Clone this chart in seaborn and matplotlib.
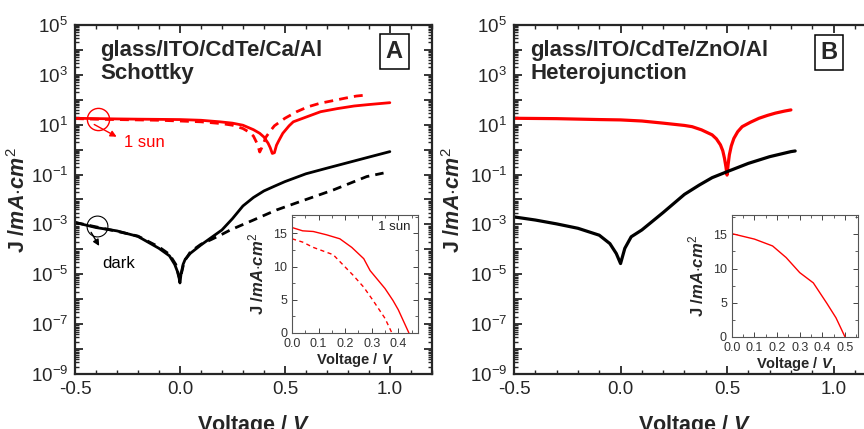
import numpy as np
import matplotlib
matplotlib.use("Agg")
import matplotlib.pyplot as plt
import matplotlib.ticker as mticker
import seaborn as sns

# ---- data ----
# panel A, main log plot
a_sun_v = [-0.5, -0.4, -0.3, -0.2, -0.1, 0.0, 0.1, 0.19, 0.25, 0.3, 0.35, 0.38, 0.4, 0.42,
           0.43, 0.44, 0.45, 0.46, 0.47, 0.49, 0.52, 0.54, 0.6, 0.67, 0.75, 0.83, 0.9, 1.0]
a_sun_j = [18, 17.5, 17, 16.6, 16.3, 16, 15, 13, 11.5, 9.5, 6.3, 4.5, 3.2, 1.8,
           1.2, 0.7, 0.75, 1.5, 2.2, 4.5, 9, 13, 20, 33, 44, 56, 64, 76]
a_sun_dash_v = [-0.5, -0.4, -0.3, -0.2, -0.1, 0.0, 0.1, 0.2, 0.25, 0.3, 0.33, 0.35, 0.37, 0.38,
                0.39, 0.41, 0.43, 0.45, 0.5, 0.556, 0.61, 0.667, 0.73, 0.786, 0.84, 0.89]
a_sun_dash_j = [17.5, 16.5, 16, 15.5, 15, 14, 13, 11, 9.5, 7, 5, 3.5, 1.6, 0.8,
                1.2, 3.2, 5.5, 9, 18, 33, 52, 72, 92, 115, 140, 155]
a_dark_v = [-0.5, -0.4, -0.3, -0.2, -0.1, -0.05, -0.025, -0.012, -0.004, 0.0, 0.005, 0.015,
            0.025, 0.05, 0.1, 0.15, 0.2, 0.25, 0.3, 0.35, 0.4, 0.45, 0.5, 0.6, 0.7, 0.8, 0.9, 1.0]
a_dark_j = [1.2e-3, 7.5e-4, 5.5e-4, 3.3e-4, 1.1e-4, 5.5e-5, 2.5e-5, 1.3e-5, 7e-6, 4.5e-6, 1e-5, 2.5e-5,
            4e-5, 7e-5, 1.5e-4, 3e-4, 6e-4, 1.7e-3, 5.5e-3, 1.2e-2, 2.2e-2, 3.4e-2, 5.2e-2, 1.07e-1,
            1.8e-1, 3e-1, 5e-1, 8.3e-1]
a_dark_dash_v = [-0.5, -0.4, -0.3, -0.2, -0.1, -0.05, -0.02, 0.0, 0.02, 0.05, 0.1, 0.15, 0.2,
                 0.24, 0.35, 0.46, 0.57, 0.73, 0.89, 0.97]
a_dark_dash_j = [1.2e-3, 8e-4, 5.3e-4, 3.4e-4, 1.25e-4, 6.3e-5, 2.5e-5, 6e-6, 3.2e-5, 8e-5, 1.6e-4,
                 2.5e-4, 4e-4, 6e-4, 1.5e-3, 3.8e-3, 8.1e-3, 2.4e-2, 8.3e-2, 1.15e-1]

# panel B, main log plot
b_sun_v = [-0.5, -0.3, -0.1, 0.0, 0.1, 0.2, 0.3, 0.336, 0.38, 0.43, 0.45, 0.469, 0.48, 0.488,
           0.495, 0.5, 0.505, 0.511, 0.52, 0.532, 0.55, 0.571, 0.61, 0.65, 0.69, 0.727, 0.77, 0.8]
b_sun_j = [18, 17.4, 16, 15.5, 14, 11.5, 9.3, 8.3, 6.2, 3.9, 2.7, 1.55, 0.9, 0.45,
           0.2, 0.095, 0.25, 0.62, 1.4, 2.8, 5.2, 8.3, 12.5, 18, 23.5, 29, 35, 39]
b_dark_v = [-0.5, -0.4, -0.3, -0.2, -0.1, -0.05, -0.02, 0.0, 0.02, 0.05, 0.1, 0.2, 0.3, 0.37,
            0.43, 0.5, 0.6, 0.7, 0.8, 0.82]
b_dark_j = [2e-3, 1.5e-3, 1.05e-3, 7e-4, 3.7e-4, 1.7e-4, 6.8e-5, 2.7e-5, 1.1e-4, 3.2e-4, 6e-4,
            3e-3, 1.6e-2, 3.8e-2, 7.5e-2, 1.3e-1, 2.8e-1, 5.2e-1, 8.3e-1, 8.8e-1]

# insets (linear J-V under 1 sun)
ia_v = [0.0, 0.04, 0.08, 0.13, 0.18, 0.225, 0.27, 0.294, 0.35, 0.38, 0.4, 0.44]
ia_j = [15.9, 15.4, 15.3, 14.8, 14.2, 12.9, 11.2, 9.4, 6.7, 4.9, 3.5, 0.0]
ia_dash_v = [0.0, 0.04, 0.08, 0.155, 0.23, 0.27, 0.305, 0.35, 0.376]
ia_dash_j = [14.2, 13.7, 12.9, 11.8, 8.7, 6.9, 4.9, 2.2, 0.0]
ib_v = [0.0, 0.05, 0.1, 0.14, 0.18, 0.24, 0.3, 0.36, 0.42, 0.46, 0.5]
ib_j = [15.1, 14.7, 14.3, 13.8, 13.3, 11.6, 9.4, 7.9, 4.9, 2.8, 0.0]

log_exps = list(range(-9, 6))
inset_a_ticks = [0.0, 0.1, 0.2, 0.3, 0.4]
inset_b_ticks = [0.0, 0.1, 0.2, 0.3, 0.4, 0.5]
inset_y_ticks = [0, 5, 10, 15]

sns.set_style("ticks")
plt.rcParams["font.family"] = ["Liberation Sans", "DejaVu Sans"]
plt.rcParams["mathtext.fontset"] = "custom"
plt.rcParams["mathtext.rm"] = "Liberation Sans"
plt.rcParams["mathtext.it"] = "Liberation Sans:italic:bold"
plt.rcParams["mathtext.bf"] = "Liberation Sans:bold"
plt.rcParams["mathtext.default"] = "regular"

RED = "#ff0000"
BLACK = "#000000"
DASH = (0, (3.2, 2.2))

fig = plt.figure(figsize=(8.64, 4.29), dpi=100)
axA = fig.add_axes([0.0868, 0.128, 0.413, 0.814])
axB = fig.add_axes([0.595, 0.128, 0.419, 0.814])


def log_fmt(v, pos):
    k = int(round(np.log10(v)))
    return f"$10^{{{k}}}$" if k % 2 else ""


def style_main(ax, ylabel_x):
    ax.set_yscale("log")
    ax.set_xlim(-0.5, 1.2)
    ax.set_ylim(1e-9, 1e5)
    ax.yaxis.set_major_locator(mticker.FixedLocator([10.0 ** k for k in log_exps]))
    ax.yaxis.set_major_formatter(mticker.FuncFormatter(log_fmt))
    ax.yaxis.set_minor_locator(mticker.LogLocator(base=10, subs=np.arange(2, 10), numticks=100))
    ax.yaxis.set_minor_formatter(mticker.NullFormatter())
    ax.xaxis.set_major_locator(mticker.MultipleLocator(0.5))
    ax.xaxis.set_major_formatter(mticker.FormatStrFormatter("%.1f"))
    ax.xaxis.set_minor_locator(mticker.MultipleLocator(0.1))
    ax.tick_params(which="both", direction="in", top=True, right=True)
    ax.tick_params(which="major", length=6, width=1.3, labelsize=13.5, pad=5)
    ax.tick_params(which="minor", length=3, width=1.0)
    for s in ax.spines.values():
        s.set_linewidth(1.6)
    ax.set_xlabel(r"Voltage / $\mathit{V}$", fontsize=15.5, fontweight="bold")
    ax.set_ylabel(r"J /$\mathit{mA{\cdot}cm^2}$", fontsize=15.5, fontweight="bold")
    ax.xaxis.set_label_coords(0.5, -0.112)
    ax.yaxis.set_label_coords(ylabel_x, 0.5)


def style_inset(ax, xmax, xticks):
    ax.set_xlim(0, xmax)
    ax.set_ylim(0, 17.8)
    ax.set_xticks(xticks)
    ax.set_yticks(inset_y_ticks)
    ax.xaxis.set_major_formatter(mticker.FormatStrFormatter("%.1f"))
    ax.xaxis.set_minor_locator(mticker.MultipleLocator(0.05))
    ax.yaxis.set_minor_locator(mticker.MultipleLocator(2.5))
    ax.tick_params(which="both", direction="in", top=True, right=True, colors="#444444",
                   labelcolor="#333333")
    ax.tick_params(which="major", length=3.5, width=0.7, labelsize=9)
    ax.tick_params(axis="y", which="major", pad=3.5)
    ax.tick_params(axis="x", which="major", pad=3.5)
    ax.tick_params(which="minor", length=2, width=0.6)
    for s in ax.spines.values():
        s.set_linewidth(0.8)
        s.set_color("#555555")
    ax.set_xlabel(r"Voltage / $\mathit{V}$", fontsize=10.5, fontweight="bold", labelpad=1)
    ax.set_ylabel(r"J /$\mathit{mA{\cdot}cm^2}$", fontsize=12, fontweight="bold", labelpad=2)


# ---- panel A ----
sns.lineplot(x=a_sun_v, y=a_sun_j, ax=axA, color=RED, lw=2.0)
sns.lineplot(x=a_sun_dash_v, y=a_sun_dash_j, ax=axA, color=RED, lw=2.0, linestyle=DASH)
sns.lineplot(x=a_dark_v, y=a_dark_j, ax=axA, color=BLACK, lw=2.0)
sns.lineplot(x=a_dark_dash_v, y=a_dark_dash_j, ax=axA, color=BLACK, lw=2.0, linestyle=DASH)
style_main(axA, -0.126)

axA.text(0.07, 0.958, "glass/ITO/CdTe/Ca/Al\nSchottky", transform=axA.transAxes,
         fontsize=16, fontweight="bold", va="top", ha="left", linespacing=1.15)
axA.text(0.895, 0.923, "A", transform=axA.transAxes, fontsize=17, fontweight="bold",
         ha="center", va="center",
         bbox=dict(boxstyle="square,pad=0.25", fc="white", ec="black", lw=1.1))

# "1 sun" and "dark" markers
axA.plot([-0.392], [17], marker="o", ms=16, mfc="none", mec=RED, mew=1.0)
axA.annotate("", xy=(-0.29, 2.9), xytext=(-0.42, 11.5),
             arrowprops=dict(arrowstyle="-|>", color=RED, lw=1.0, mutation_scale=9))
axA.text(-0.265, 1.9, "1 sun", color=RED, fontsize=12, va="center", ha="left")
axA.plot([-0.395], [8.7e-4], marker="o", ms=15, mfc="none", mec=BLACK, mew=0.8)
axA.annotate("", xy=(-0.378, 1.1e-4), xytext=(-0.43, 6e-4),
             arrowprops=dict(arrowstyle="-|>", color=BLACK, lw=1.0, mutation_scale=9))
axA.text(-0.37, 2.8e-5, "dark", color=BLACK, fontsize=12, va="center", ha="left")

# ---- panel B ----
sns.lineplot(x=b_sun_v, y=b_sun_j, ax=axB, color=RED, lw=2.3)
sns.lineplot(x=b_dark_v, y=b_dark_j, ax=axB, color=BLACK, lw=2.3)
style_main(axB, -0.135)
axB.text(0.044, 0.958, "glass/ITO/CdTe/ZnO/Al\nHeterojunction", transform=axB.transAxes,
         fontsize=16, fontweight="bold", va="top", ha="left", linespacing=1.15)
axB.text(0.87, 0.92, "B", transform=axB.transAxes, fontsize=17, fontweight="bold",
         ha="center", va="center",
         bbox=dict(boxstyle="square,pad=0.25", fc="white", ec="black", lw=1.1))

# ---- insets ----
insA = fig.add_axes([0.338, 0.224, 0.146, 0.275])
sns.lineplot(x=ia_v, y=ia_j, ax=insA, color=RED, lw=1.0)
sns.lineplot(x=ia_dash_v, y=ia_dash_j, ax=insA, color=RED, lw=1.0, linestyle=(0, (3, 2.5)))
style_inset(insA, 0.475, inset_a_ticks)
insA.yaxis.set_label_coords(-0.2, 0.5)
insA.text(0.94, 0.9, "1 sun", transform=insA.transAxes, fontsize=9.5, ha="right", va="center",
          color="#222222")

insB = fig.add_axes([0.847, 0.2145, 0.146, 0.284])
sns.lineplot(x=ib_v, y=ib_j, ax=insB, color=RED, lw=1.0)
style_inset(insB, 0.557, inset_b_ticks)
insB.yaxis.set_label_coords(-0.2, 0.5)

fig.savefig("out.png", dpi=100)
